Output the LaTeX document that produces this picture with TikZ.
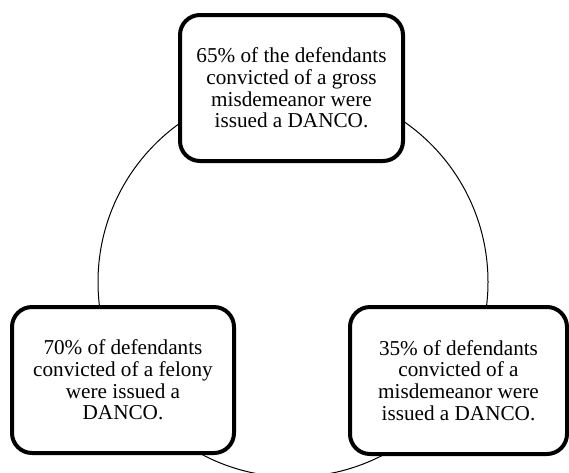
\documentclass[tikz,border=0pt]{standalone}
\usepackage{fontspec}
\setmainfont{Liberation Serif}
\begin{document}
\begin{tikzpicture}[x=1pt,y=-1pt,
  factbox/.style={draw=black, fill=white, line width=4pt, rounded corners=20pt,
    align=center, inner sep=0pt,
    font=\fontsize{21.2pt}{21.7pt}\selectfont}]
\useasboundingbox (0,0) rectangle (569,472);
\clip (0,0) rectangle (569,472);
\coordinate (ctr) at (293,282);
\draw[line width=1pt] (ctr) circle [radius=195pt];
\node[factbox, minimum width=223pt, minimum height=146pt] (top) at (291.5,88)
  {65\% of the defendants\\convicted of a gross\\misdemeanor were\\issued a DANCO.};
\node[factbox, minimum width=222pt, minimum height=146pt] (left) at (123,380)
  {70\% of defendants\\convicted of a felony\\were issued a\\DANCO.};
\node[factbox, minimum width=217pt, minimum height=147pt] (right) at (458.5,380.5)
  {35\% of defendants\\convicted of a\\misdemeanor were\\issued a DANCO.};
\end{tikzpicture}
\end{document}
